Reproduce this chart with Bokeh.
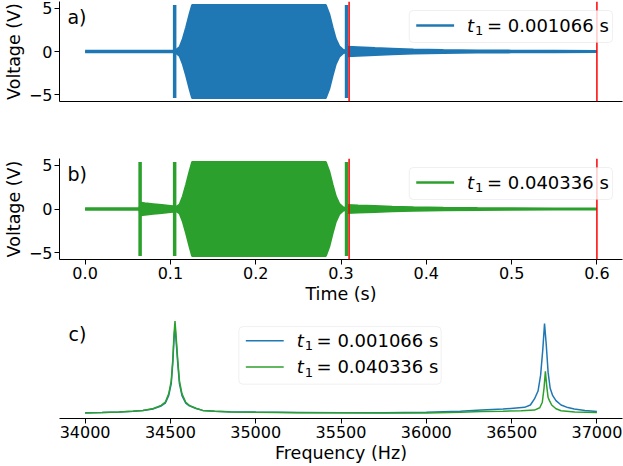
from bokeh.plotting import figure
from bokeh.layouts import column
from bokeh.models import Range1d, FixedTicker, Span, Label, BoxAnnotation, Arrow
from bokeh.embed import file_html
from bokeh.resources import INLINE

BLUE = "#1f77b4"
GREEN = "#2ca02c"
RED = "#ff0000"
FONT = "DejaVu Sans"

# ---- time-domain signals: envelope (seconds, volts) of the recorded bursts ----
env_t_a = [0.0, 0.104, 0.1068, 0.1108, 0.1146, 0.1185, 0.1225, 0.1255,
           0.2822, 0.2862, 0.2901, 0.2939, 0.2979, 0.3018, 0.3049,
           0.3075, 0.32, 0.34, 0.36, 0.385, 0.42, 0.46, 0.50, 0.55, 0.60]
env_amp_a = [0.08, 0.08, 0.2, 0.5, 1.45, 2.8, 4.3, 5.35,
             5.35, 4.3, 2.8, 1.45, 0.6, 0.25, 0.1,
             0.55, 0.5, 0.4, 0.32, 0.22, 0.16, 0.12, 0.1, 0.08, 0.07]
spike_t_a = [0.105, 0.3065]
spike_amp_a = [5.35, 5.35]

env_t_b = [0.0, 0.0635, 0.0655, 0.07, 0.08, 0.09, 0.10, 0.104,
           0.1068, 0.1108, 0.1146, 0.1185, 0.1225, 0.1255,
           0.2822, 0.2862, 0.2901, 0.2939, 0.2979, 0.3018, 0.3049,
           0.3075, 0.32, 0.34, 0.36, 0.385, 0.42, 0.46, 0.50, 0.55, 0.60]
env_amp_b = [0.08, 0.08, 0.7, 0.65, 0.55, 0.45, 0.35, 0.3,
             0.25, 0.5, 1.45, 2.8, 4.3, 5.35,
             5.35, 4.3, 2.8, 1.45, 0.6, 0.25, 0.1,
             0.45, 0.4, 0.33, 0.26, 0.19, 0.14, 0.11, 0.09, 0.07, 0.06]
spike_t_b = [0.0645, 0.105, 0.3065]
spike_amp_b = [5.35, 5.35, 5.35]

# analysis window limits (s)
window_t = [0.3095, 0.6]

t1_a = "0.001066"
t1_b = "0.040336"

time_ticks = [0.0, 0.1, 0.2, 0.3, 0.4, 0.5, 0.6]
time_tick_labels = ["0.0", "0.1", "0.2", "0.3", "0.4", "0.5", "0.6"]
volt_ticks = [-5, 0, 5]
volt_tick_labels = ["\u22125", "0", "5"]

# ---- spectra (Hz, normalised magnitude) ----
freq_a = [34000, 34100, 34200, 34280, 34339, 34400, 34446, 34470, 34490, 34505,
          34514, 34521, 34527, 34533, 34543, 34553, 34568, 34590, 34611, 34650,
          34689, 34760, 34850, 35000, 35250, 35500, 35750, 36000, 36200, 36323,
          36450, 36576, 36610, 36634, 36655, 36670, 36683, 36693, 36703, 36714,
          36726, 36741, 36760, 36790, 36830, 36867, 36930, 37000]
spec_a = [0.015, 0.019, 0.025, 0.032, 0.040, 0.058, 0.09, 0.12, 0.20, 0.33,
          0.55, 0.80, 0.95, 0.80, 0.55, 0.33, 0.20, 0.12, 0.09, 0.062,
          0.042, 0.033, 0.028, 0.024, 0.020, 0.018, 0.018, 0.022, 0.032, 0.045,
          0.056, 0.075, 0.10, 0.165, 0.25, 0.42, 0.70, 0.973, 0.75, 0.45,
          0.28, 0.20, 0.147, 0.10, 0.072, 0.056, 0.042, 0.031]

freq_b = [34000, 34100, 34200, 34280, 34339, 34400, 34446, 34470, 34490, 34505,
          34514, 34521, 34527, 34533, 34543, 34553, 34568, 34590, 34611, 34650,
          34689, 34760, 34850, 35000, 35250, 35500, 35750, 36000, 36200, 36323,
          36450, 36556, 36634, 36665, 36680, 36690, 36698, 36706, 36714, 36722,
          36735, 36760, 36790, 36870, 37000]
spec_b = [0.017, 0.020, 0.026, 0.034, 0.042, 0.062, 0.096, 0.13, 0.22, 0.36,
          0.585, 0.85, 1.0, 0.85, 0.585, 0.36, 0.22, 0.13, 0.096, 0.065,
          0.042, 0.032, 0.026, 0.022, 0.018, 0.016, 0.014, 0.015, 0.022, 0.031,
          0.034, 0.038, 0.045, 0.07, 0.13, 0.28, 0.462, 0.30, 0.18, 0.147,
          0.10, 0.06, 0.038, 0.026, 0.02]

freq_ticks = [34000, 34500, 35000, 35500, 36000, 36500, 37000]

W = 623
FRAME_L = 57
FRAME_W = 565


def base_figure(height, x_range, y_range, top, bottom, y_axis=True):
    p = figure(width=W, height=height, x_range=x_range, y_range=y_range,
               output_backend="svg", toolbar_location=None,
               y_axis_location="left" if y_axis else None,
               min_border_left=FRAME_L, min_border_right=W - FRAME_L - FRAME_W,
               min_border_top=top, min_border_bottom=bottom)
    p.grid.visible = False
    p.outline_line_color = None
    p.background_fill_color = "white"
    p.border_fill_color = "white"
    for ax in p.axis:
        ax.axis_line_color = "black"
        ax.axis_line_width = 1
        ax.major_tick_line_color = "black"
        ax.major_tick_in = 0
        ax.major_tick_out = 5
        ax.minor_tick_line_color = None
        ax.major_label_text_font = FONT
        ax.major_label_text_font_size = "16px"
        ax.major_label_text_color = "black"
        ax.major_label_standoff = 2
        ax.axis_label_text_font = FONT
        ax.axis_label_text_font_size = "17.5px"
        ax.axis_label_text_font_style = "normal"
        ax.axis_label_text_color = "black"
        ax.axis_label_standoff = 2
    return p


def to_data(p, dx, dy, fh):
    xr, yr = p.x_range, p.y_range
    x = xr.start + dx / FRAME_W * (xr.end - xr.start)
    y = yr.end - dy / fh * (yr.end - yr.start)
    return x, y


def add_legend(p, fh, box, entries, line_w):
    x0, y0 = to_data(p, box[0], box[2], fh)
    x1, y1 = to_data(p, box[1], box[3], fh)
    p.add_layout(BoxAnnotation(left=x0, right=x1, top=y0, bottom=y1,
                               fill_color="white", fill_alpha=0.8,
                               line_color="#cccccc", line_width=1,
                               border_radius=4))
    for color, txt, dy in entries:
        lx0, ly = to_data(p, box[0] + 7, dy, fh)
        lx1, _ = to_data(p, box[0] + 45, dy, fh)
        p.add_layout(Arrow(start=None, end=None, x_start=lx0, y_start=ly,
                           x_end=lx1, y_end=ly, line_color=color,
                           line_width=line_w))
        tx, _ = to_data(p, box[0] + 58, dy, fh)
        p.add_layout(Label(x=tx, y=ly, text="t", text_font=FONT,
                           text_font_style="italic", text_font_size="18px",
                           text_baseline="middle", text_color="black"))
        sx, sy = to_data(p, box[0] + 66, dy + 5, fh)
        p.add_layout(Label(x=sx, y=sy, text="1", text_font=FONT,
                           text_font_size="13px", text_baseline="middle",
                           text_color="black"))
        ex, _ = to_data(p, box[0] + 78, dy, fh)
        p.add_layout(Label(x=ex, y=ly, text="= " + txt + " s", text_font=FONT,
                           text_font_size="18px", text_baseline="middle",
                           text_color="black"))


def add_tag(p, fh, text, dx, dy):
    x, y = to_data(p, dx, dy, fh)
    p.add_layout(Label(x=x, y=y, text=text, text_font=FONT,
                       text_font_size="19px", text_baseline="middle",
                       text_color="black"))


def time_panel(height, top, bottom, fh, env_t, env_amp, spike_t, spike_amp,
               color, tag, t1, show_x):
    p = base_figure(height, Range1d(-0.03, 0.63), Range1d(-5.75, 5.75), top, bottom)
    neg = [-a for a in env_amp]
    p.varea(x=env_t, y1=neg, y2=env_amp, fill_color=color)
    p.line(env_t, env_amp, line_color=color, line_width=2)
    p.line(env_t, neg, line_color=color, line_width=2)
    p.segment(x0=spike_t, y0=[-a for a in spike_amp], x1=spike_t, y1=spike_amp,
              line_color=color, line_width=3.5, line_cap="butt")
    for t in window_t:
        p.add_layout(Span(location=t, dimension="height", line_color=RED,
                          line_width=1.5))
    p.yaxis.ticker = FixedTicker(ticks=volt_ticks)
    p.yaxis.major_label_overrides = dict(zip(volt_ticks, volt_tick_labels))
    p.yaxis.axis_label = "Voltage (V)"
    if show_x:
        p.xaxis.ticker = FixedTicker(ticks=time_ticks)
        p.xaxis.major_label_overrides = dict(zip(time_ticks, time_tick_labels))
        p.xaxis.axis_label = "Time (s)"
    else:
        p.xaxis.ticker = FixedTicker(ticks=[])
        p.xaxis.major_tick_line_color = None
    add_tag(p, fh, tag, 8, 15)
    add_legend(p, fh, (351, 555, 9, 41), [(color, t1, 24)], 2.5)
    return p


fa = time_panel(157, 1, 56, 100, env_t_a, env_amp_a, spike_t_a, spike_amp_a,
                BLUE, "a)", t1_a, False)
fb = time_panel(152, 1, 50, 101, env_t_b, env_amp_b, spike_t_b, spike_amp_b,
                GREEN, "b)", t1_b, True)

fc = base_figure(157, Range1d(33850, 37150), Range1d(-0.045, 1.05), 7, 48,
                 y_axis=False)
fc.line(freq_a, spec_a, line_color=BLUE, line_width=1.5)
fc.line(freq_b, spec_b, line_color=GREEN, line_width=1.5)
fc.xaxis.ticker = FixedTicker(ticks=freq_ticks)
fc.xaxis.axis_label = "Frequency (Hz)"
add_tag(fc, 101, "c)", 9, 17)
add_legend(fc, 101, (180, 383, 10, 67), [(BLUE, t1_a, 24), (GREEN, t1_b, 50)], 1.5)

layout = column(fa, fb, fc, spacing=0)
with open("out.html", "w") as f:
    f.write(file_html(layout, INLINE))
